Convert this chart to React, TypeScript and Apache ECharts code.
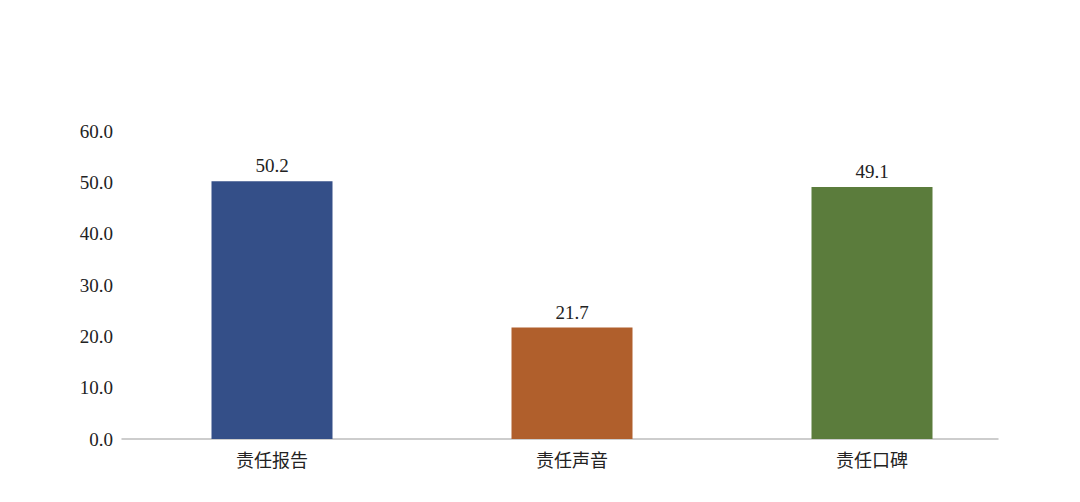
import React, { useEffect, useRef } from "react";
import * as echarts from "echarts";

const categories = ["责任报告", "责任声音", "责任口碑"];
const values = [50.2, 21.7, 49.1];
const barColors = ["#344F88", "#B05F2C", "#5B7C3C"];
const yTicks = { min: 0, max: 60, interval: 10 };

export default function App() {
  const ref = useRef<HTMLDivElement>(null);
  useEffect(() => {
    if (!ref.current) return;
    const chart = echarts.init(ref.current, undefined, { renderer: "svg" });
    const serif = "'Liberation Serif', 'Times New Roman', serif";
    chart.setOption({
      animation: false,
      backgroundColor: "#ffffff",
      grid: [
        { left: 114, right: 50, top: 123, bottom: 55 },
        { left: 114, right: 74, top: 123, bottom: 55 },
      ],
      xAxis: [
        {
          type: "category",
          gridIndex: 0,
          data: categories,
          axisLine: { show: false },
          axisTick: { show: false },
          axisLabel: {
            fontFamily: "'Noto Sans CJK SC', sans-serif",
            fontSize: 18,
            color: "#222",
            margin: 11,
          },
        },
        {
          type: "category",
          gridIndex: 1,
          data: categories,
          axisLine: { show: true, lineStyle: { color: "#BDBDBD", width: 1.5 } },
          axisTick: { show: false },
          axisLabel: { show: false },
        },
      ],
      yAxis: [
        {
          type: "value",
          gridIndex: 0,
          min: yTicks.min,
          max: yTicks.max,
          interval: yTicks.interval,
          axisLine: { show: false },
          axisTick: { show: false },
          splitLine: { show: false },
          axisLabel: {
            formatter: (v: number) => v.toFixed(1),
            fontFamily: serif,
            fontSize: 19,
            color: "#222",
            margin: 9,
          },
        },
        {
          type: "value",
          gridIndex: 1,
          min: yTicks.min,
          max: yTicks.max,
          interval: yTicks.interval,
          show: false,
        },
      ],
      series: [
        {
          type: "bar",
          xAxisIndex: 0,
          yAxisIndex: 0,
          barWidth: 121,
          data: values.map((v, i) => ({ value: v, itemStyle: { color: barColors[i] } })),
          label: {
            show: true,
            position: "top",
            distance: 6,
            formatter: (p: any) => Number(p.value).toFixed(1),
            fontFamily: serif,
            fontSize: 19,
            color: "#222",
          },
          z: 3,
        },
      ],
    });
    return () => chart.dispose();
  }, []);
  return <div ref={ref} style={{ width: 1064, height: 486 }} />;
}
